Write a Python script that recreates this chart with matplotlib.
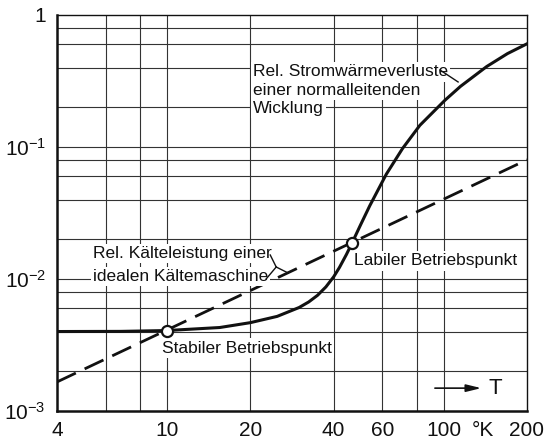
import matplotlib
matplotlib.use("Agg")
import matplotlib.pyplot as plt
import numpy as np

plt.rcParams['font.family'] = ['Liberation Sans', 'DejaVu Sans']
plt.rcParams['mathtext.fontset'] = 'custom'
plt.rcParams['mathtext.rm'] = 'Liberation Sans'

# --- data ---
# Rel. Stromwärmeverluste (solid curve)
T_loss = [4, 6.8, 10, 15.5, 20, 25, 30, 32.5, 35, 37.5, 40, 42, 44.5, 46.6, 50, 54, 62, 71, 82, 90,
          101, 115, 143, 170, 200]
y_loss = [0.0040, 0.00401, 0.00407, 0.00429, 0.00467, 0.00521, 0.00608, 0.0067, 0.00753, 0.00871,
          0.01038, 0.01225, 0.01535, 0.0187, 0.0256, 0.0358, 0.0622, 0.0975, 0.146, 0.1775,
          0.226, 0.288, 0.407, 0.510, 0.605]
# Rel. Kälteleistung (dashed straight line)
T_cool = [4, 200]
y_cool = [0.00166, 0.080]
# operating points
T_pts = [10, 46.6]
y_pts = [0.00404, 0.0187]

xtick_vals = [4, 10, 20, 40, 60, 100, 200]
xtick_labels = ['4', '10', '20', '40', '60', '100', '200']
ytick_vals = [1e-3, 1e-2, 1e-1, 1]
ytick_labels = [r'$\mathregular{10^{-3}}$', r'$\mathregular{10^{-2}}$', r'$\mathregular{10^{-1}}$', '1']
xgrid = [6, 8, 10, 20, 40, 60, 80, 100]
ygrid = [2e-3, 4e-3, 6e-3, 8e-3, 1e-2, 2e-2, 4e-2, 6e-2, 8e-2, 1e-1, 2e-1, 4e-1, 6e-1, 8e-1]

fig = plt.figure(figsize=(5.52, 4.43), dpi=100)
ax = fig.add_axes([57/552, 1-411/443, 470/552, 396/443])
ax.set_xscale('log')
ax.set_yscale('log')
ax.set_xlim(4, 200)
ax.set_ylim(1e-3, 1)

gc = '#333333'
for xv in xgrid:
    ax.axvline(xv, color=gc, lw=0.8, zorder=1)
for yv in ygrid:
    ax.axhline(yv, color=gc, lw=0.8, zorder=1)

ax.plot(T_loss, y_loss, color='#111111', lw=2.2, zorder=3, solid_joinstyle='round')
ax.plot(T_cool, y_cool, color='#111111', lw=2.0, zorder=3, dashes=(7.5, 3.5))
ax.plot(T_pts, y_pts, 'o', ms=8, mfc='white', mec='#111111', mew=1.6, zorder=5)

ax.set_xticks(xtick_vals)
ax.set_xticklabels(xtick_labels)
ax.set_yticks(ytick_vals)
ax.set_yticklabels(ytick_labels)
ax.minorticks_off()
ax.tick_params(axis='both', length=0, labelsize=15, colors='#111111')
ax.tick_params(axis='x', pad=7)
ax.tick_params(axis='y', pad=8)

for s in ['left', 'bottom']:
    ax.spines[s].set_linewidth(1.8)
for s in ['top', 'right']:
    ax.spines[s].set_linewidth(1.0)
for s in ax.spines.values():
    s.set_color('#111111')

# °K unit label among the x tick labels
ax.annotate('°K', xy=(138.5, 0), xycoords=('data', 'axes fraction'), xytext=(0, -7),
            textcoords='offset points', ha='center', va='top', fontsize=15, color='#111111')

fs = 12.5
bb = dict(facecolor='white', edgecolor='none', pad=1.5)
for txt, yy in [('Rel. Stromwärmeverluste', 0.370), ('einer normalleitenden', 0.268), ('Wicklung', 0.195)]:
    ax.text(20.4, yy, txt, ha='left', va='center', fontsize=fs, color='#111111', bbox=bb, zorder=4)
for txt, yy in [('Rel. Kälteleistung einer', 0.0156), ('idealen Kältemaschine', 0.0105)]:
    ax.text(5.4, yy, txt, ha='left', va='center', fontsize=fs, color='#111111', bbox=bb, zorder=4)
ax.text(9.59, 0.0030, 'Stabiler Betriebspunkt', ha='left', va='center', fontsize=fs, color='#111111',
        bbox=bb, zorder=4)
ax.text(47.5, 0.01369, 'Labiler Betriebspunkt', ha='left', va='center', fontsize=fs, color='#111111',
        bbox=bb, zorder=4)

# leader lines
ax.plot([97.0, 112.7], [0.383, 0.311], color='#111111', lw=1.0, zorder=4)
ax.plot([23.6, 24.8], [0.0152, 0.01233], color='#111111', lw=1.0, zorder=4)
ax.plot([22.8, 24.8], [0.0100, 0.01233], color='#111111', lw=1.0, zorder=4)
ax.plot([24.8, 27.4], [0.01233, 0.0111], color='#111111', lw=1.0, zorder=4)

# arrow -> T
ax.annotate('', xy=(139.9, 0.00149), xytext=(90.8, 0.00149),
            arrowprops=dict(arrowstyle='-|>,head_length=0.9,head_width=0.22', color='#111111', lw=1.2),
            zorder=4)
ax.text(153.3, 0.00149, 'T', ha='center', va='center', fontsize=16, color='#111111')

fig.savefig('out.png', dpi=100)
